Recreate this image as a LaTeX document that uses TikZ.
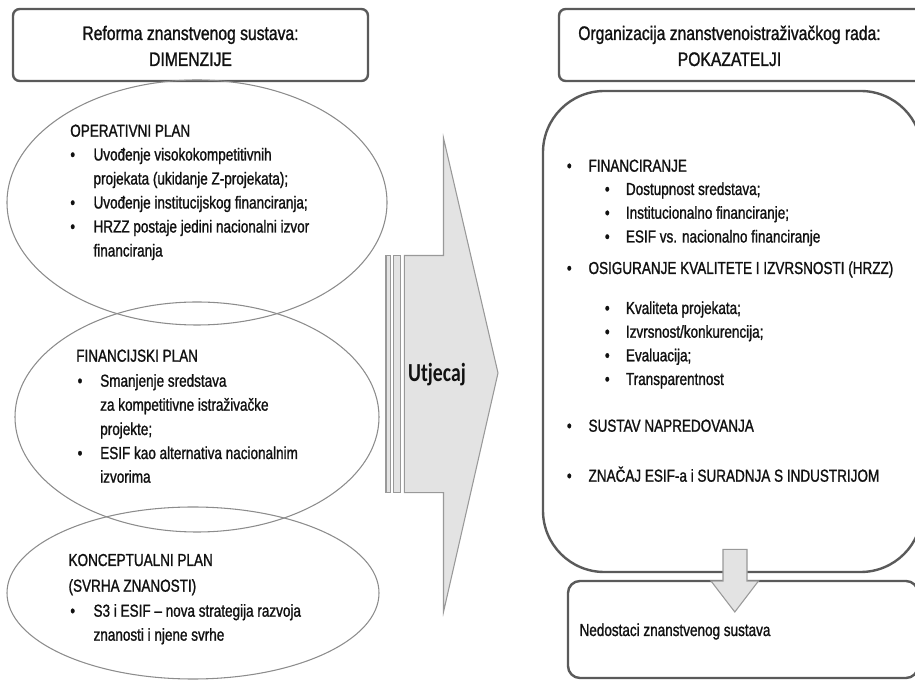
\documentclass[tikz,border=0pt]{standalone}
\usepackage{fontspec}
\setmainfont{Liberation Sans}[FakeStretch=0.78, FakeBold=1.2]
\newfontfamily\titlefont{Liberation Sans}[FakeStretch=0.8, FakeBold=1.2]
\newfontfamily\utfont{Carlito}[FakeStretch=0.76]
\definecolor{boxgray}{HTML}{5A5A5A}
\definecolor{ellgray}{HTML}{8C8C8C}
\definecolor{arrfill}{HTML}{E3E3E3}
\definecolor{arrline}{HTML}{999999}
\definecolor{txtcol}{HTML}{111111}
\newcommand{\mainfs}{\fontsize{13}{18}\selectfont}
\newcommand{\titlefs}{\titlefont\fontsize{14.7}{19}\selectfont}
\begin{document}
\begin{tikzpicture}[x=0.75pt,y=-0.75pt,
  titlebox/.style={draw=boxgray, line width=1.8pt, rounded corners=5pt},
  ell/.style={draw=ellgray, line width=0.8pt},
  txt/.style={anchor=base west, inner sep=0pt, font=\mainfs, text=txtcol},
  bul/.style={anchor=base, inner sep=0pt, font=\mainfs, text=txtcol},
  ttl/.style={anchor=base, inner sep=0pt, font=\titlefs, text=txtcol},
  arr/.style={fill=arrfill, draw=arrline, line width=0.8pt, line join=miter}]
\useasboundingbox (0,0) rectangle (915,680);
\clip (0,0) rectangle (915,680);

% left title
\draw[titlebox] (13,9) rectangle (368,81);
\node[ttl] (lt1) at (190.5,40) {Reforma znanstvenog sustava:};
\node[ttl] (lt2) at (190.5,66) {DIMENZIJE};

% ellipses
\draw[ell] (197,202.5) ellipse [x radius=190, y radius=122.5];
\draw[ell] (197,417) ellipse [x radius=182, y radius=115];
\draw[ell] (193,593) ellipse [x radius=186, y radius=86];

% operativni plan
\node[txt] (op0) at (70,136.7) {OPERATIVNI PLAN};
\node[bul] (opb1) at (72.7,160.5) {•};
\node[txt] (op1) at (93.3,160.5) {Uvođenje visokokompetitivnih};
\node[txt] (op2) at (93.3,184.5) {projekata (ukidanje Z-projekata);};
\node[bul] (opb2) at (72.7,208.5) {•};
\node[txt] (op3) at (93.3,208.5) {Uvođenje institucijskog financiranja;};
\node[bul] (opb3) at (72.7,232.5) {•};
\node[txt] (op4) at (93.3,232.5) {HRZZ postaje jedini nacionalni izvor};
\node[txt] (op5) at (93.3,256.5) {financiranja};

% financijski plan
\node[txt] (fp0) at (76,361.7) {FINANCIJSKI PLAN};
\node[bul] (fpb1) at (80,386.7) {•};
\node[txt] (fp1) at (100,386.7) {Smanjenje sredstava};
\node[txt] (fp2) at (100,410.7) {za kompetitivne istraživačke};
\node[txt] (fp3) at (100,435) {projekte;};
\node[bul] (fpb2) at (80,459) {•};
\node[txt] (fp4) at (100,459) {ESIF kao alternativa nacionalnim};
\node[txt] (fp5) at (100,482.7) {izvorima};

% konceptualni plan
\node[txt] (kp0) at (68.3,566) {KONCEPTUALNI PLAN};
\node[txt] (kp1) at (68.3,591.7) {(SVRHA ZNANOSTI)};
\node[bul] (kpb1) at (72.7,616.7) {•};
\node[txt] (kp2) at (93.3,616.7) {S3 i ESIF – nova strategija razvoja};
\node[txt] (kp3) at (93.3,640.7) {znanosti i njene svrhe};

% big arrow
\draw[arr] (386,255.5) rectangle (390.5,492.7);
\draw[arr] (393.5,255.5) rectangle (400.5,492.7);
\draw[arr] (404.3,255.5) -- (443.5,255.5) -- (443.5,138) -- (498,373) -- (443.5,612) -- (443.5,492.7) -- (404.3,492.7) -- cycle;
\node[anchor=base, inner sep=0pt, text=txtcol, font={\utfont\bfseries\fontsize{19.5}{22}\selectfont}] (ut) at (437,382) {Utjecaj};

% right title
\draw[titlebox] (559,9) rectangle (935,81);
\node[ttl] (rt1) at (729.5,40) {Organizacija znanstvenoistraživačkog rada:};
\node[ttl] (rt2) at (729.5,66) {POKAZATELJI};

% big rounded box
\draw[draw=boxgray, line width=1.8pt, rounded corners=46pt] (543,91) rectangle (922,572);

\node[bul] (rb1) at (569.3,171.7) {•};
\node[txt] (r1) at (588.3,171.7) {FINANCIRANJE};
\node[bul] (rs1) at (607.3,195) {•};
\node[txt] (r11) at (625.7,195) {Dostupnost sredstava;};
\node[bul] (rs2) at (607.3,218.7) {•};
\node[txt] (r12) at (625.7,218.7) {Institucionalno financiranje;};
\node[bul] (rs3) at (607.3,242.5) {•};
\node[txt] (r13) at (625.7,242.5) {ESIF vs. nacionalno financiranje};
\node[bul] (rb2) at (569.3,274) {•};
\node[txt] (r2) at (588.3,274) {OSIGURANJE KVALITETE I IZVRSNOSTI (HRZZ)};
\node[bul] (rs4) at (607.3,314) {•};
\node[txt] (r21) at (625.7,314) {Kvaliteta projekata;};
\node[bul] (rs5) at (607.3,337.7) {•};
\node[txt] (r22) at (625.7,337.7) {Izvrsnost/konkurencija;};
\node[bul] (rs6) at (607.3,361.3) {•};
\node[txt] (r23) at (625.7,361.3) {Evaluacija;};
\node[bul] (rs7) at (607.3,385) {•};
\node[txt] (r24) at (625.7,385) {Transparentnost};
\node[bul] (rb3) at (569.3,431.7) {•};
\node[txt] (r3) at (588.3,431.7) {SUSTAV NAPREDOVANJA};
\node[bul] (rb4) at (569.3,481.7) {•};
\node[txt] (r4) at (588.3,481.7) {ZNAČAJ ESIF-a i SURADNJA S INDUSTRIJOM};

% bottom box
\draw[draw=boxgray, line width=1.8pt, rounded corners=9pt] (568,581) rectangle (918,678);
\node[txt] (nd) at (579.3,636) {Nedostaci znanstvenog sustava};

% down arrow
\draw[arr] (723,549.3) -- (747,549.3) -- (747,581) -- (758.5,581) -- (734.8,612) -- (711,581) -- (723,581) -- cycle;
\end{tikzpicture}
\end{document}
